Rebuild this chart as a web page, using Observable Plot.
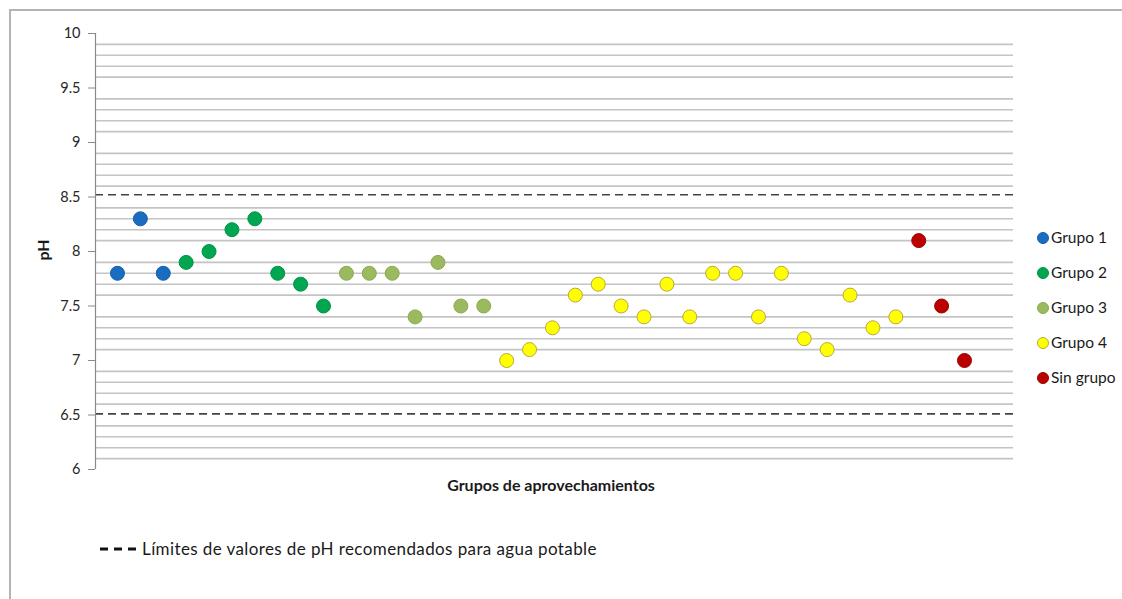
<!DOCTYPE html>
<html>
<head>
<meta charset="utf-8">
<script src="https://cdn.jsdelivr.net/npm/d3@7"></script>
<script src="https://cdn.jsdelivr.net/npm/@observablehq/plot@0.6"></script>
<style>
  html, body { margin: 0; padding: 0; background: #fff; }
  #wrap { position: relative; width: 1122px; height: 599px; overflow: hidden; font-family: "Lato", "Open Sans", sans-serif; color: #1a1a1a; }
  #frame { position: absolute; left: 9px; top: 9px; width: 1200px; height: 700px; border-left: 2px solid #b4b4b4; border-top: 2px solid #b4b4b4; }
  #chart { position: absolute; left: 0; top: 0; }
  .xlabel { position: absolute; left: 551px; top: 475px; transform: translateX(-50%); font-weight: bold; font-size: 16px; white-space: nowrap; }
  .ylabel { position: absolute; left: 42px; top: 250px; transform: translate(-50%, -50%) rotate(-90deg); font-weight: bold; font-size: 16px; }
  .legend { position: absolute; left: 1037px; top: 228px; font-size: 15.5px; }
  .legend div { height: 35px; display: flex; align-items: flex-start; white-space: nowrap; }
  .legend span.sw { display: inline-block; width: 12px; height: 12px; border-radius: 50%; margin-right: 2px; margin-top: 4px; box-sizing: border-box; }
  .bottom { position: absolute; left: 100px; top: 538px; font-size: 17px; letter-spacing: 0.4px; display: flex; align-items: center; white-space: nowrap; }
  .bottom svg { margin-right: 6px; }
</style>
</head>
<body>
<div id="wrap">
  <div id="frame"></div>
  <div id="chart"></div>
  <div class="ylabel">pH</div>
  <div class="xlabel">Grupos de aprovechamientos</div>
  <div class="legend" id="legend"></div>
  <div class="bottom" id="bottom"></div>
</div>
<script>
// ---- Data ----
const groups = ["Grupo 1", "Grupo 2", "Grupo 3", "Grupo 4", "Sin grupo"];
const colors = ["#1a6cc0", "#00a650", "#9bb95e", "#ffff00", "#bb0000"];
const strokes = ["#1560ae", "#009447", "#8ca953", "#b8a93a", "#a00000"];
const grupo1 = [7.8, 8.3, 7.8];
const grupo2 = [7.9, 8.0, 8.2, 8.3, 7.8, 7.7, 7.5];
const grupo3 = [7.8, 7.8, 7.8, 7.4, 7.9, 7.5, 7.5];
const grupo4 = [7.0, 7.1, 7.3, 7.6, 7.7, 7.5, 7.4, 7.7, 7.4, 7.8, 7.8, 7.4, 7.8, 7.2, 7.1, 7.6, 7.3, 7.4];
const sinGrupo = [8.1, 7.5, 7.0];
const limits = [8.52, 6.51];
const yTicks = [6, 6.5, 7, 7.5, 8, 8.5, 9, 9.5, 10];
const limitLabel = "Límites de valores de pH recomendados para agua potable";

// ---- Build table ----
const series = [grupo1, grupo2, grupo3, grupo4, sinGrupo];
const points = [];
let idx = 1;
series.forEach((vals, g) => {
  vals.forEach(v => { points.push({pos: idx++, ph: v, group: groups[g]}); });
});
// minor gridlines every 0.1 (none on the 0.5 marks)
const grid = d3.range(61, 100).map(d => d / 10).filter(d => Math.round(d * 10) % 5 !== 0);

const strokeOf = Object.fromEntries(groups.map((g, i) => [g, strokes[i]]));

const chart = Plot.plot({
  width: 1122,
  height: 500,
  marginLeft: 95,
  marginRight: 109,
  marginTop: 33,
  marginBottom: 31,
  style: {fontFamily: "Lato, 'Open Sans', sans-serif", fontSize: "14.5px", color: "#262626", background: "transparent"},
  x: {domain: [0.04, 40.14], axis: null},
  y: {domain: [6, 10], axis: null},
  color: {domain: groups, range: colors},
  marks: [
    Plot.ruleY(grid, {stroke: "#c4c4c4", strokeWidth: 1.6}),
    Plot.ruleY(limits, {stroke: "#444", strokeWidth: 1.6, strokeDasharray: "8,5"}),
    Plot.ruleX([0.04], {y1: 6, y2: 10, stroke: "#8a8a8a", strokeWidth: 1.2}),
    Plot.axisY({ticks: yTicks, tickSize: 7, tickPadding: 8, tickFormat: d => String(d), stroke: "#8a8a8a", fill: "#262626", label: null}),
    Plot.dot(points, {x: "pos", y: "ph", fill: "group", r: 7, stroke: d => strokeOf[d.group], strokeWidth: 1})
  ]
});
document.getElementById("chart").appendChild(chart);

// Legend
const leg = document.getElementById("legend");
groups.forEach((g, i) => {
  const row = document.createElement("div");
  const sw = document.createElement("span");
  sw.className = "sw";
  sw.style.background = colors[i];
  sw.style.border = "1px solid " + strokes[i];
  row.appendChild(sw);
  row.appendChild(document.createTextNode(g));
  leg.appendChild(row);
});

// Bottom legend
const bottom = document.getElementById("bottom");
bottom.innerHTML = '<svg width="36" height="6"><line x1="0" y1="3" x2="36" y2="3" stroke="#111" stroke-width="3" stroke-dasharray="8,6"/></svg>';
bottom.appendChild(document.createTextNode(limitLabel));
</script>
</body>
</html>
